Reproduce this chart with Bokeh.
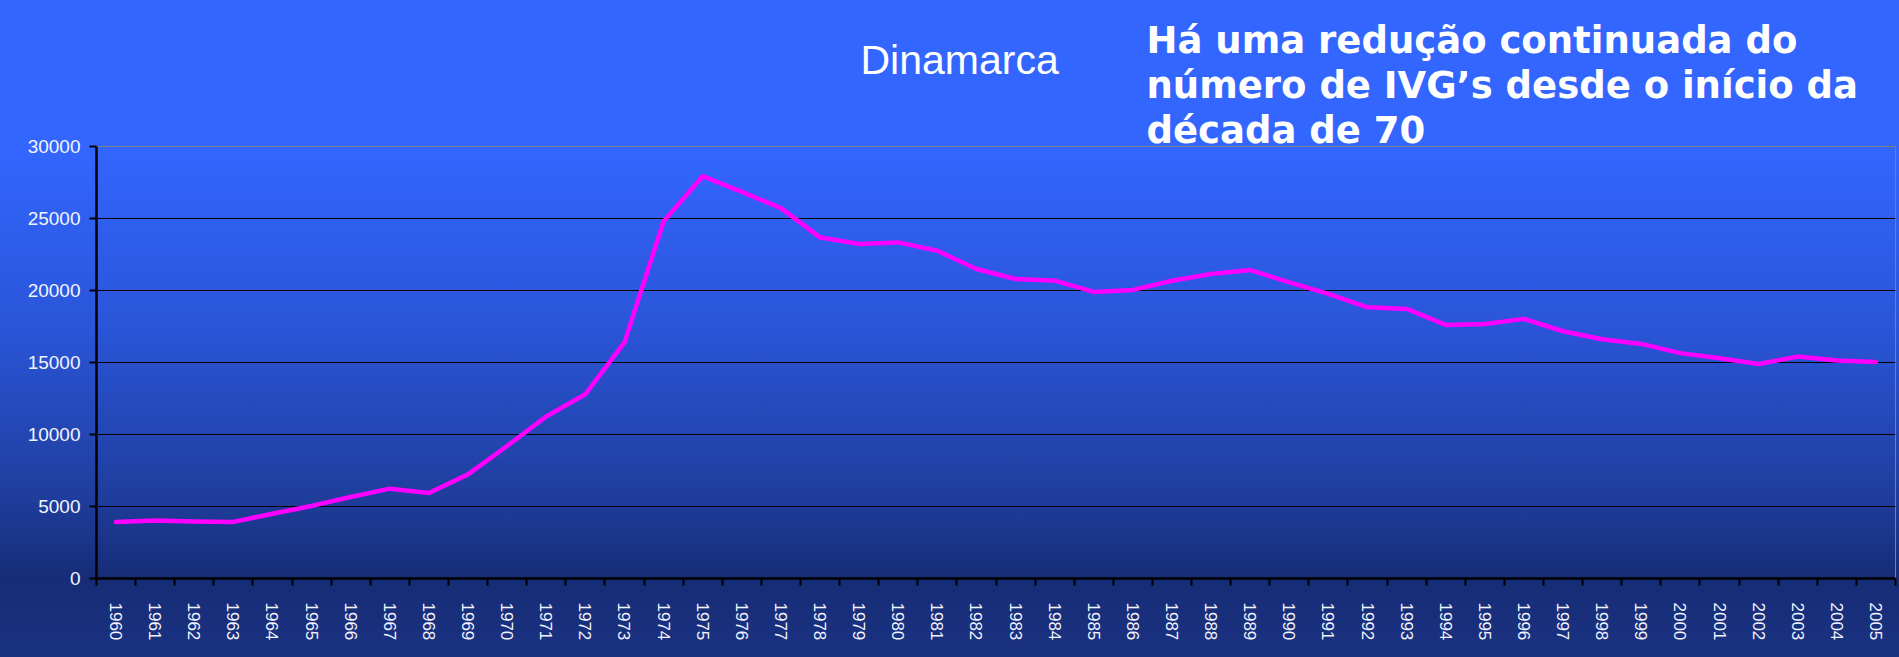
from bokeh.plotting import figure
from bokeh.models import FixedTicker, Range1d, Title
from bokeh.embed import file_html
from bokeh.resources import INLINE

years = list(range(1960, 2006))
abortions = [3930, 4020, 3960, 3930, 4500, 5040, 5660, 6240, 5940, 7230,
             9200, 11250, 12800, 16400, 24800, 27940, 26850, 25720, 23690, 23230,
             23340, 22760, 21490, 20800, 20680, 19900, 20040, 20680, 21150, 21420,
             20570, 19760, 18830, 18720, 17610, 17680, 18030, 17170, 16620, 16290,
             15650, 15300, 14900, 15410, 15140, 15040]
y_ticks = [0, 5000, 10000, 15000, 20000, 25000, 30000]
country = "Dinamarca"
title_lines = ["Há uma redução continuada do",
               "número de IVG’s desde o início da",
               "década de 70"]

SANS = "Liberation Sans"

W, H = 1899, 657
p = figure(width=W, height=H, output_backend="svg", toolbar_location=None,
           x_range=Range1d(years[0] - 0.5, years[-1] + 0.5),
           y_range=Range1d(y_ticks[0], y_ticks[-1]),
           min_border_left=96, min_border_right=4, min_border_top=146, min_border_bottom=79,
           background_fill_alpha=0, border_fill_alpha=0)
p.styles = {"background": "linear-gradient(to bottom, #3366FF 0%, #3366FF 22%, #2A55D8 50%, #1F3E9E 75%, #162C76 88%, #1B3282 100%)"}

p.outline_line_color = "#808080"
p.outline_line_width = 1

# country name: outer title panel, top aligned, pushed down with two blank leading lines
p.title.text = "\u00a0\n\u00a0\n" + country
p.title.align = "left"
p.title.vertical_align = "top"
p.title.offset = 764
p.title.standoff = -124
p.title.text_font = SANS
p.title.text_font_style = "normal"
p.title.text_font_size = "41px"
p.title.text_line_height = 1.0
p.title.text_color = "white"

# message block (multi-line), panel nearest to the plot
p.add_layout(Title(text="\n".join(title_lines), align="left", offset=1050, standoff=-11,
                   text_font="DejaVu Sans", text_font_style="bold", text_font_size="37px",
                   text_line_height=1.05, text_color="white"), "above")

# x axis: labels at year centres, ticks between years (minor)
p.xaxis.ticker = FixedTicker(ticks=years, minor_ticks=[y - 0.5 for y in years] + [years[-1] + 0.5])
p.xaxis.major_tick_out = 0
p.xaxis.major_tick_in = 0
p.xaxis.minor_tick_out = 7
p.xaxis.minor_tick_in = 0
p.xaxis.minor_tick_line_color = "black"
p.xaxis.minor_tick_line_width = 2
p.xaxis.axis_line_color = "black"
p.xaxis.axis_line_width = 2.5
p.xaxis.major_label_orientation = "vertical"
p.xaxis.major_label_standoff = 17
p.xaxis.major_label_text_font = SANS
p.xaxis.major_label_text_font_size = "17px"
p.xaxis.major_label_text_color = "#F2F4FF"

p.yaxis.ticker = FixedTicker(ticks=y_ticks)
p.yaxis.major_tick_out = 7
p.yaxis.major_tick_in = 0
p.yaxis.minor_tick_out = 0
p.yaxis.minor_tick_in = 0
p.yaxis.major_tick_line_color = "black"
p.yaxis.major_tick_line_width = 2
p.yaxis.axis_line_color = "black"
p.yaxis.axis_line_width = 2.5
p.yaxis.major_label_standoff = 9
p.yaxis.major_label_text_font = SANS
p.yaxis.major_label_text_font_size = "19px"
p.yaxis.major_label_text_color = "#F2F4FF"

p.xgrid.grid_line_color = None
p.ygrid.ticker = FixedTicker(ticks=y_ticks[1:-1])
p.ygrid.grid_line_color = "black"
p.ygrid.grid_line_width = 1.2

p.line(years, abortions, line_color="#FF00FF", line_width=4.5, line_join="round", line_cap="round")

html = file_html(p, INLINE)
open("out.html", "w").write(html)
